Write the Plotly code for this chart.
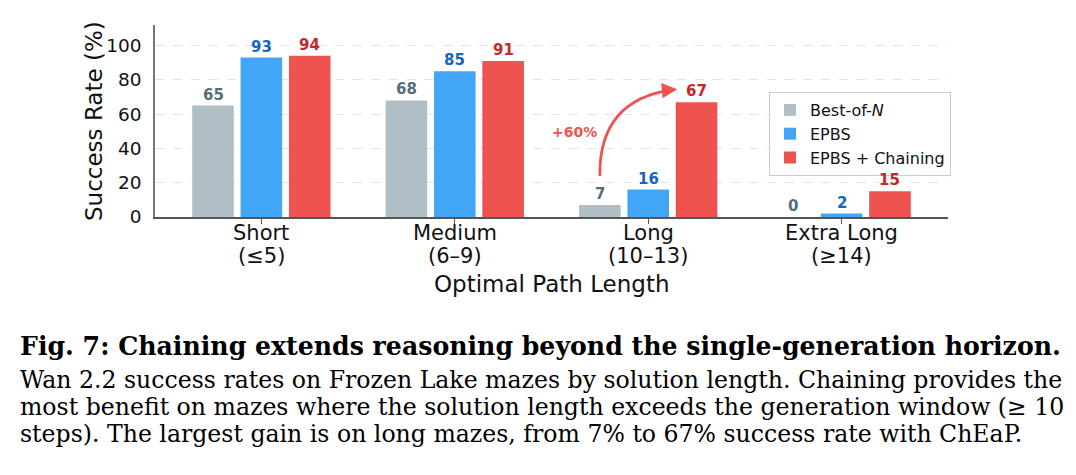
import plotly.graph_objects as go
import numpy as np

category_names = ["Short", "Medium", "Long", "Extra Long"]
category_ranges = ["(≤5)", "(6–9)", "(10–13)", "(≥14)"]
series_names = ["Best-of-<i>N</i>", "EPBS", "EPBS + Chaining"]
best_of_n = [65, 68, 7, 0]
epbs = [93, 85, 16, 2]
epbs_chaining = [94, 91, 67, 15]
y_ticks = [0, 20, 40, 60, 80, 100]

bar_colors = ["#B0BEC5", "#42A5F5", "#EF5350"]
label_colors = ["#546E7A", "#1565C0", "#C62828"]
offsets = [-0.25, 0.0, 0.25]
bar_width = 0.215

caption_lines = [
    "Fig. 7: Chaining extends reasoning beyond the single-generation horizon.",
    "Wan 2.2 success rates on Frozen Lake mazes by solution length. Chaining provides the",
    "most benefit on mazes where the solution length exceeds the generation window (≥ 10",
    "steps). The largest gain is on long mazes, from 7% to 67% success rate with ChEaP.",
]

SANS = "DejaVu Sans"
SERIF = "DejaVu Serif"

# plot-area geometry in pixels (for placing annotations in paper coords)
W, H = 1076, 475
PL, PR, PT, PB = 155, 948, 25, 217


def px_x(px):
    return (px - PL) / (PR - PL)


def px_y(py):
    return (PB - py) / (PB - PT)


fig = go.Figure()
xs = np.arange(len(category_names))
all_series = [best_of_n, epbs, epbs_chaining]
annotations = []
for name, vals, col, lcol, off in zip(series_names, all_series, bar_colors, label_colors, offsets):
    fig.add_trace(go.Bar(
        x=xs + off, y=vals, width=bar_width, name=name,
        marker=dict(color=col, line=dict(width=0)),
        hoverinfo="skip",
    ))
    for xi, v in zip(xs + off, vals):
        annotations.append(dict(
            x=xi, y=v, xref="x", yref="y", text=f"<b>{v}</b>", showarrow=False,
            xanchor="center", yanchor="middle", yshift=11,
            font=dict(family=SANS, size=15, color=lcol),
        ))

# category labels (two lines each)
for xi, nm, rg in zip(xs, category_names, category_ranges):
    annotations.append(dict(x=xi, y=px_y(233), xref="x", yref="paper", text=nm,
                            showarrow=False, xanchor="center", yanchor="middle",
                            font=dict(family=SANS, size=21, color="#111")))
    annotations.append(dict(x=xi, y=px_y(255.5), xref="x", yref="paper", text=rg,
                            showarrow=False, xanchor="center", yanchor="middle",
                            font=dict(family=SANS, size=21, color="#111")))

# curved arrow Best-of-N -> EPBS + Chaining on Long mazes
li = 2
sx, sy = li + offsets[0], best_of_n[li] + 17
ex, ey = li + offsets[2] - 0.1, epbs_chaining[li] + 7.5
cx, cy = sx - 0.005, ey - 6
fig.add_shape(type="path", xref="x", yref="y",
              path=f"M {sx},{sy} Q {cx},{cy} {ex - 0.02},{ey - 0.2}",
              line=dict(color="#EF5350", width=2.8))
annotations.append(dict(x=ex, y=ey, ax=ex - 0.06, ay=ey - 0.6, xref="x", yref="y",
                        axref="x", ayref="y", showarrow=True, arrowhead=2, arrowsize=1.1,
                        arrowwidth=2.8, arrowcolor="#EF5350", text=""))
gain = epbs_chaining[li] - best_of_n[li]
annotations.append(dict(x=li - 0.383, y=49.6, xref="x", yref="y", text=f"<b>+{gain}%</b>",
                        showarrow=False, xanchor="center", yanchor="middle",
                        font=dict(family=SANS, size=14, color="#EF5350")))

# axis titles
annotations.append(dict(x=px_x(94), y=px_y(121), xref="paper", yref="paper",
                        text="Success Rate (%)", textangle=-90, showarrow=False,
                        xanchor="center", yanchor="middle",
                        font=dict(family=SANS, size=23, color="#111")))
annotations.append(dict(x=0.5, y=px_y(284), xref="paper", yref="paper",
                        text="Optimal Path Length", showarrow=False,
                        xanchor="center", yanchor="middle",
                        font=dict(family=SANS, size=23, color="#111")))

# caption
cap_y = [346, 380, 407, 434]
for i, (line, yy) in enumerate(zip(caption_lines, cap_y)):
    txt = f"<b>{line}</b>" if i == 0 else line
    annotations.append(dict(x=px_x(18), y=px_y(yy), xref="paper", yref="paper",
                            text=txt, showarrow=False, xanchor="left", yanchor="middle",
                            font=dict(family=SERIF, size=25.2 if i == 0 else 23.6, color="#000")))

fig.update_layout(
    width=W, height=H,
    margin=dict(l=PL, r=W - PR, t=PT, b=H - PB),
    paper_bgcolor="white", plot_bgcolor="white",
    barmode="overlay",
    showlegend=True,
    legend=dict(x=px_x(769), y=px_y(92), xanchor="left", yanchor="top",
                bgcolor="rgba(255,255,255,0.9)", bordercolor="#CCCCCC", borderwidth=1,
                font=dict(family=SANS, size=16, color="#111"), tracegroupgap=0,
                itemwidth=30),
    xaxis=dict(range=[-0.55, 3.55], tickvals=list(xs), ticktext=[""] * len(xs),
               showline=True, linecolor="#555", linewidth=1.5, ticks="outside",
               ticklen=5, tickcolor="#555", showgrid=False, zeroline=False),
    yaxis=dict(range=[0, 112], tickvals=y_ticks, showline=True,
               linecolor="#777", linewidth=1.5, ticks="", ticklabelstandoff=8,
               tickfont=dict(family=SANS, size=18.5, color="#111"),
               showgrid=True, gridcolor="#E3E3E3", griddash="dash", gridwidth=1,
               zeroline=False),
    annotations=annotations,
)

fig.write_html("out.html")
